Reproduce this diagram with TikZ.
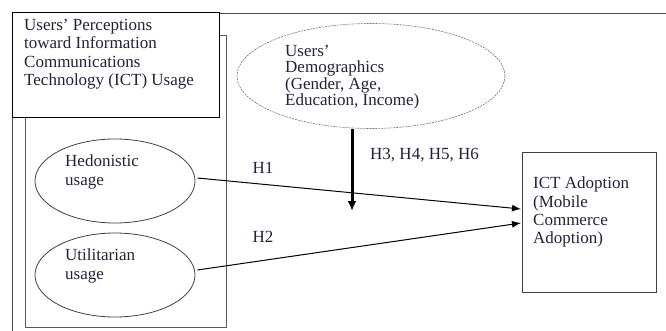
\documentclass[tikz,border=0pt]{standalone}
\usepackage{fontspec}
\setmainfont{Liberation Serif}
\usetikzlibrary{shapes.geometric,arrows.meta}
\definecolor{txt}{HTML}{22223A}
\begin{document}
\begin{tikzpicture}[x=1pt,y=-1pt,
  lbl/.style={anchor=north west,inner sep=0pt,align=left,text=txt,font=\fontsize{17}{18.3}\selectfont},
  hyp/.style={inner sep=0pt,text=txt,font=\fontsize{17}{18}\selectfont},
  ell/.style={ellipse,draw=black!75,line width=0.8pt,minimum width=160pt,minimum height=84pt,inner sep=0pt},
  conn/.style={line width=1pt,-{Latex[length=9pt,width=7pt]}}]
\useasboundingbox (0,0) rectangle (666,331);
% outer frame
\coordinate (fbl) at (12,331);
\coordinate (ftl) at (12,13);
\coordinate (ftr) at (666,13);
\draw[black!70,line width=0.8pt] (fbl) -- (ftl) -- (ftr);
% inner tall box
\node[draw=black!65,line width=1pt,minimum width=201pt,minimum height=291pt,inner sep=0pt] (inner) at (125.5,181.5) {};
% title box
\node[draw=black,fill=white,line width=1pt,minimum width=207pt,minimum height=105pt,inner sep=0pt] (tbox) at (115.5,65.5) {};
\node[lbl] (ttext) at (24,19) {Users’ Perceptions\\toward Information\\Communications\\Technology (ICT) Usage};
% ellipses
\node[ell] (hed) at (115,181) {};
\node[lbl] (hedt) at (65,155) {Hedonistic\\usage};
\node[ell] (uti) at (115,275) {};
\node[lbl] (utit) at (65,249) {Utilitarian\\usage};
% demographics
\node[ellipse,draw=black!55,dash pattern=on 2pt off 1pt,line width=0.6pt,minimum width=268pt,minimum height=105pt,inner sep=0pt] (demo) at (371,76) {};
\node[lbl,font=\fontsize{17}{16.4}\selectfont] (demot) at (285,45) {Users’\\Demographics\\(Gender, Age,\\Education, Income)};
% ICT box
\node[draw=black!75,line width=1pt,minimum width=134pt,minimum height=139pt,inner sep=0pt] (ict) at (589,222.5) {};
\node[lbl] (ictt) at (533,177) {ICT Adoption\\(Mobile\\Commerce\\Adoption)};
% connectors
\coordinate (in1) at (521,209);
\coordinate (in2) at (521,223);
\coordinate (mod) at (352,211);
\draw[conn] (hed.east) ++(2,-3) coordinate (hedout) -- (in1);
\draw[conn] (uti.east) ++(2,-5) coordinate (utiout) -- (in2);
\draw[line width=3pt,-{Latex[length=10pt,width=9pt]}] (demo.south -| mod) -- (mod);
% labels
\node[hyp] (h1) at (263,168) {H1};
\node[hyp] (h2) at (263,237) {H2};
\node[hyp,anchor=west] (h36) at (370,155) {H3, H4, H5, H6};
\end{tikzpicture}
\end{document}
